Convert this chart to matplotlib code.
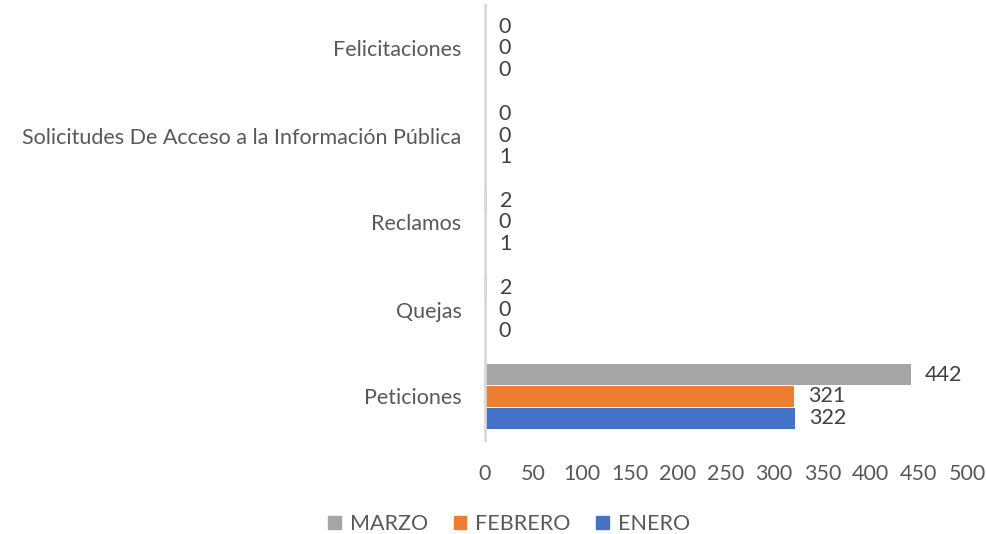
import matplotlib
matplotlib.use("Agg")
import matplotlib.pyplot as plt
import numpy as np
from matplotlib.patches import Patch

categories = ["Peticiones", "Quejas", "Reclamos",
              "Solicitudes De Acceso a la Información Pública", "Felicitaciones"]
enero = [322, 0, 1, 1, 0]
febrero = [321, 0, 0, 0, 0]
marzo = [442, 2, 2, 0, 0]
series_names = ["ENERO", "FEBRERO", "MARZO"]
colors = ["#4472C4", "#ED7D31", "#A5A5A5"]
xticks = [0, 50, 100, 150, 200, 250, 300, 350, 400, 450, 500]

plt.rcParams['font.family'] = ['Lato', 'DejaVu Sans']
txt = "#595959"
fs = 15.5

fig = plt.figure(figsize=(9.87, 5.34), dpi=100)
ax = fig.add_axes([485/987, 1-440/534, (967-485)/987, (440-5)/534])

y = np.arange(len(categories))
h = 0.25
for i, (vals, c, name) in enumerate(zip([enero, febrero, marzo], colors, series_names)):
    pos = y + (i - 1) * h
    ax.barh(pos, vals, height=h * 0.97, color=c, label=name)
    for p, v in zip(pos, vals):
        ax.text(v + 14, p, str(v), va='center', ha='left', fontsize=fs, color="#404040")

ax.set_xlim(0, 500)
ax.set_ylim(-0.5, len(categories) - 0.5)
ax.set_xticks(xticks)
ax.set_xticklabels([str(t) for t in xticks], fontsize=fs, color=txt)
ax.set_yticks(y)
ax.set_yticklabels(categories, fontsize=fs, color=txt)
ax.tick_params(axis='both', length=0)
ax.tick_params(axis='x', pad=17)
ax.tick_params(axis='y', pad=17)
for s in ['top', 'right', 'bottom']:
    ax.spines[s].set_visible(False)
ax.spines['left'].set_color("#D9D9D9")
ax.spines['left'].set_linewidth(2)

handles = [Patch(color=colors[2], label="MARZO"),
           Patch(color=colors[1], label="FEBRERO"),
           Patch(color=colors[0], label="ENERO")]
fig.legend(handles=handles, loc='center', bbox_to_anchor=(509/987, 1-524/534), ncol=3,
           frameon=False, fontsize=fs, labelcolor=txt, handlelength=0.6, handleheight=0.6,
           handletextpad=0.4, columnspacing=1.2)

fig.savefig("out.png", dpi=100)
